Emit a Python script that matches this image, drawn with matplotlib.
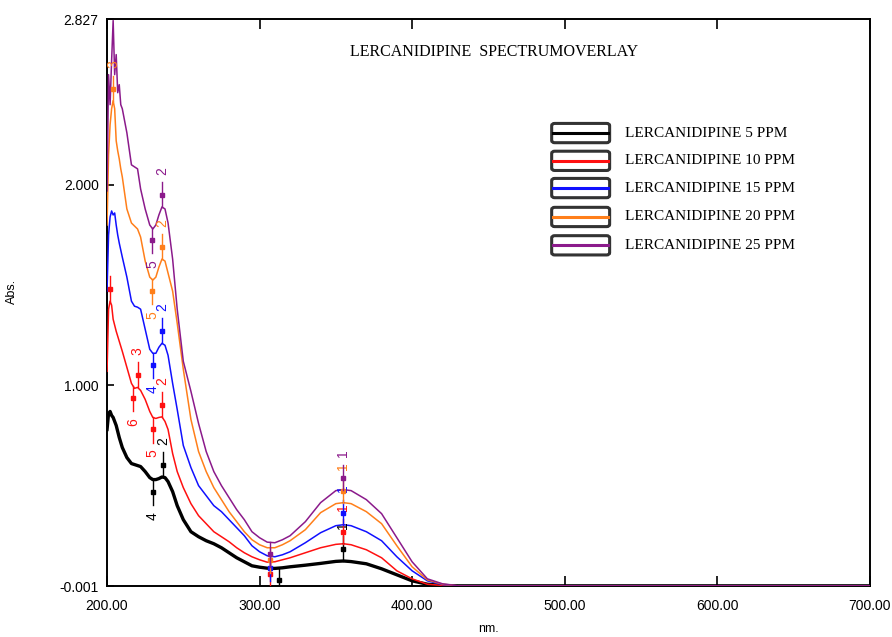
import numpy as np
import matplotlib
matplotlib.use("Agg")
import matplotlib.pyplot as plt
from matplotlib.patches import FancyBboxPatch

# wavelength grid (nm) and absorbance for each concentration
wl = [200, 201, 202, 203, 204, 205, 206, 207, 208, 209, 210, 213, 216, 218, 220, 222,
      225, 228, 230, 232, 234, 236, 238, 240, 243, 246, 250, 255, 260, 265, 270, 275,
      280, 285, 290, 295, 300, 305, 310, 315, 320, 330, 340, 350, 355, 360, 370, 380,
      390, 400, 410, 420, 430, 450, 500, 600, 700]

abs_5 = [0.78, 0.86, 0.87, 0.85, 0.84, 0.82, 0.80, 0.77, 0.74, 0.715, 0.69, 0.64, 0.61, 0.605,
         0.60, 0.595, 0.57, 0.54, 0.53, 0.53, 0.535, 0.543, 0.54, 0.52, 0.47, 0.40, 0.33, 0.27,
         0.245, 0.225, 0.21, 0.19, 0.165, 0.14, 0.12, 0.10, 0.093, 0.088, 0.087, 0.09, 0.095,
         0.103, 0.112, 0.122, 0.124, 0.121, 0.11, 0.085, 0.055, 0.025, 0.008, 0.002, 0.0,
         0.0, 0.0, 0.0, 0.0]
abs_10 = [1.07, 1.38, 1.42, 1.40, 1.33, 1.30, 1.27, 1.245, 1.22, 1.195, 1.17, 1.09, 1.01, 0.985,
          0.99, 0.975, 0.93, 0.87, 0.84, 0.835, 0.84, 0.843, 0.82, 0.78, 0.66, 0.57, 0.49, 0.41,
          0.35, 0.31, 0.27, 0.245, 0.22, 0.19, 0.165, 0.145, 0.13, 0.118, 0.12, 0.13, 0.14,
          0.165, 0.19, 0.207, 0.21, 0.205, 0.18, 0.14, 0.075, 0.035, 0.008, 0.002, 0.0,
          0.0, 0.0, 0.0, 0.0]
abs_15 = [1.47, 1.75, 1.84, 1.87, 1.85, 1.86, 1.80, 1.75, 1.71, 1.675, 1.64, 1.54, 1.42, 1.395,
          1.39, 1.38, 1.28, 1.18, 1.16, 1.16, 1.19, 1.21, 1.20, 1.15, 1.01, 0.88, 0.70, 0.59,
          0.50, 0.45, 0.40, 0.37, 0.33, 0.29, 0.25, 0.20, 0.17, 0.15, 0.145, 0.155, 0.17,
          0.215, 0.265, 0.30, 0.305, 0.30, 0.27, 0.225, 0.145, 0.075, 0.025, 0.006, 0.0,
          0.0, 0.0, 0.0, 0.0]
abs_20 = [1.80, 2.15, 2.30, 2.38, 2.42, 2.38, 2.22, 2.17, 2.13, 2.08, 2.04, 1.88, 1.81, 1.795,
          1.78, 1.74, 1.62, 1.54, 1.525, 1.54, 1.59, 1.63, 1.62, 1.56, 1.47, 1.31, 1.08, 0.83,
          0.67, 0.57, 0.49, 0.43, 0.37, 0.32, 0.27, 0.23, 0.205, 0.19, 0.19, 0.205, 0.225,
          0.28, 0.365, 0.41, 0.415, 0.41, 0.37, 0.31, 0.20, 0.095, 0.03, 0.008, 0.0,
          0.0, 0.0, 0.0, 0.0]
abs_25 = [1.97, 2.55, 2.40, 2.62, 2.82, 2.55, 2.65, 2.46, 2.50, 2.40, 2.38, 2.26, 2.10, 2.09,
          2.08, 1.98, 1.88, 1.80, 1.78, 1.80, 1.85, 1.89, 1.88, 1.81, 1.63, 1.38, 1.12, 0.97,
          0.81, 0.67, 0.57, 0.50, 0.44, 0.38, 0.33, 0.27, 0.24, 0.218, 0.215, 0.23, 0.25,
          0.32, 0.415, 0.475, 0.48, 0.475, 0.43, 0.36, 0.24, 0.12, 0.035, 0.01, 0.0,
          0.0, 0.0, 0.0, 0.0]

names = ["LERCANIDIPINE 5 PPM", "LERCANIDIPINE 10 PPM", "LERCANIDIPINE 15 PPM",
         "LERCANIDIPINE 20 PPM", "LERCANIDIPINE 25 PPM"]
colors = ["#000000", "#ff1010", "#1010ff", "#ff7f1a", "#8b1a8b"]
series = [abs_5, abs_10, abs_15, abs_20, abs_25]

# peak pick marks: (wavelength, label, +1 peak / -1 valley)
picks = [
    [(237, "2", 1), (230, "4", -1), (355, "1", 1), (313, "", -1)],
    [(202, "", 1), (220, "3", 1), (217, "6", -1), (236, "2", 1), (230, "5", -1), (355, "1", 1), (307, "", -1)],
    [(236, "2", 1), (230, "4", -1), (355, "1", 1), (307, "", -1)],
    [(204, "3", 1), (236, "2", 1), (229.5, "5", -1), (355, "1", 1), (307, "", -1)],
    [(236, "2", 1), (229.5, "5", -1), (355, "1", 1), (307, "", -1)],
]

fig = plt.figure(figsize=(8.92, 6.37), dpi=100)
ax = fig.add_axes([0.12, 0.080, 0.855, 0.890])

for i in range(5):
    lw = 2.4 if i == 0 else 1.1
    ax.plot(wl, series[i], color=colors[i], lw=lw, zorder=3 if i else 2)

for i in range(5):
    for w, lab, d in picks[i]:
        y0 = float(np.interp(w, wl, series[i]))
        ax.plot([w, w], [y0, y0 + d * 0.125], color=colors[i], lw=1.0, zorder=4)
        ax.plot(w, y0 + d * 0.06, "s", color=colors[i], ms=2.8, zorder=4)
        if lab:
            ax.text(w, y0 + d * 0.18, lab, color=colors[i], rotation=90, fontsize=10,
                    ha="center", va="center", family="Liberation Sans", zorder=4)

ax.set_xlim(200, 700)
ax.set_ylim(-0.001, 2.827)
ax.set_xticks([200, 300, 400, 500, 600, 700])
ax.set_xticklabels(["200.00", "300.00", "400.00", "500.00", "600.00", "700.00"])
ax.set_yticks([-0.001, 1.0, 2.0, 2.827])
ax.set_yticklabels(["-0.001", "1.000", "2.000", "2.827"])
ax.tick_params(direction="in", length=7, width=1.2, top=True, labelsize=10)
ax.tick_params(axis="x", pad=9)
ax.tick_params(axis="y", length=5, pad=6)
for lbl in ax.get_xticklabels() + ax.get_yticklabels():
    lbl.set_family("Liberation Sans")
for s in ax.spines.values():
    s.set_linewidth(1.4)

ax.set_xlabel("nm.", fontsize=9, family="Liberation Sans")
ax.xaxis.set_label_coords(0.5, -0.066)
ax.set_ylabel("Abs.", fontsize=9, family="Liberation Sans")
ax.yaxis.set_label_coords(-0.117, 0.52)

ax.text(0.507, 0.942, "LERCANIDIPINE  SPECTRUMOVERLAY", transform=ax.transAxes,
        ha="center", va="center", fontsize=11.5, family="Liberation Serif")

# legend boxes
rows = [0.799, 0.750, 0.702, 0.651, 0.601]
for i in range(5):
    box = FancyBboxPatch((0.583, rows[i] - 0.017), 0.076, 0.034, transform=ax.transAxes,
                         boxstyle="round,pad=0.0,rounding_size=0.004", fc="white",
                         ec="#333333", lw=2.2, zorder=5)
    ax.add_patch(box)
    ax.plot([0.585, 0.657], [rows[i], rows[i]], transform=ax.transAxes, color=colors[i],
            lw=2.2, zorder=6)
    ax.text(0.679, rows[i], names[i], transform=ax.transAxes, ha="left", va="center",
            fontsize=11, family="Liberation Serif", zorder=6)

fig.savefig("out.png", dpi=100)
